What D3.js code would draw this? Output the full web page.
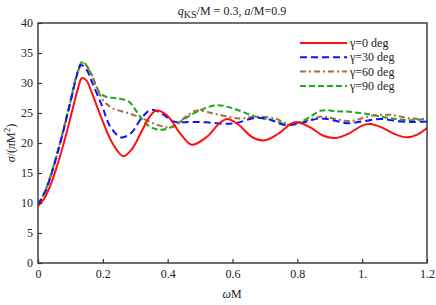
<html>
<head>
<script src="https://d3js.org/d3.v7.min.js"></script>
<style>
  body { margin: 0; background: #fff; }
  text { font-family: "Liberation Serif", "DejaVu Serif", serif; fill: #222; }
</style>
</head>
<body>
<svg width="436" height="305" id="chart"></svg>
<script>
// data: [omegaM, sigma/(pi M^2)]
var gamma0 = [[0,9.5],[0.02,10.8],[0.04,13.2],[0.06,16.4],[0.08,20.1],[0.1,24.2],[0.114,27.2],[0.125,29.4],[0.135,30.8],[0.15,30.4],
  [0.163,28.8],[0.194,24.4],[0.23,19.95],[0.263,17.8],[0.29,19.0],[0.32,22.0],[0.35,24.8],[0.367,25.4],[0.4,24.5],[0.44,21.5],
  [0.475,19.7],[0.52,21.0],[0.56,23.3],[0.584,24.0],[0.62,23.0],[0.66,21.0],[0.70,20.45],[0.74,21.5],[0.78,23.2],[0.797,23.5],
  [0.84,22.6],[0.88,21.2],[0.92,20.85],[0.96,21.6],[1.0,22.9],[1.025,23.15],[1.06,22.6],[1.1,21.5],[1.137,20.95],[1.17,21.4],[1.2,22.5]];
var gamma30 = [[0,9.7],[0.02,11.6],[0.04,14.6],[0.07,20.3],[0.1,26.8],[0.12,31.3],[0.132,33.0],[0.15,32.2],[0.168,29.95],[0.199,26.0],
  [0.22,23.0],[0.25,21.05],[0.263,20.95],[0.29,21.8],[0.32,24.2],[0.348,25.5],[0.38,25.0],[0.417,23.6],[0.47,23.5],[0.52,23.45],
  [0.57,23.2],[0.61,23.3],[0.67,24.2],[0.71,24.0],[0.76,23.0],[0.81,23.3],[0.87,24.1],[0.91,23.8],[0.953,23.3],[1.005,23.65],
  [1.056,24.0],[1.108,23.65],[1.16,23.5],[1.2,23.6]];
var gamma60 = [[0,9.7],[0.02,11.6],[0.04,14.6],[0.07,20.3],[0.1,26.8],[0.12,31.3],[0.137,33.3],[0.15,32.8],[0.168,31.0],[0.2,27.2],
  [0.23,25.8],[0.28,24.95],[0.33,23.9],[0.375,22.9],[0.417,22.7],[0.459,24.5],[0.49,25.4],[0.55,24.8],[0.62,24.1],[0.67,24.4],
  [0.73,24.1],[0.773,23.2],[0.814,23.5],[0.876,24.4],[0.91,24.1],[0.963,23.65],[1.025,24.5],[1.087,24.7],[1.149,24.1],[1.2,24.0]];
var gamma90 = [[0,9.8],[0.02,11.8],[0.04,14.8],[0.07,20.5],[0.1,27.0],[0.12,31.5],[0.137,33.55],[0.16,32.0],[0.189,28.5],[0.21,27.7],
  [0.24,27.45],[0.28,26.9],[0.31,24.8],[0.34,22.9],[0.376,22.2],[0.41,22.6],[0.44,23.6],[0.49,25.2],[0.55,26.3],[0.6,25.8],
  [0.67,24.4],[0.73,23.7],[0.775,23.0],[0.82,23.8],[0.876,25.4],[0.92,25.3],[0.96,25.2],[1.02,24.8],[1.09,24.1],[1.15,23.8],[1.2,24.0]];

var seriesNames = ["\u03B3=0 deg", "\u03B3=30 deg", "\u03B3=60 deg", "\u03B3=90 deg"];
var seriesData = [gamma0, gamma30, gamma60, gamma90];
var seriesColors = ["#ff1010", "#1010ff", "#a0703c", "#22a622"];
var seriesDash = [null, "7,4", "6,3,2,3", "6,3"];
var xTicks = [0, 0.2, 0.4, 0.6, 0.8, 1.0, 1.2];
var xTickLabels = ["0", "0.2", "0.4", "0.6", "0.8", "1.", "1.2"];
var yTicks = [0, 5, 10, 15, 20, 25, 30, 35, 40];

var svg = d3.select("#chart");
var plotLeft = 38, plotRight = 427, plotTop = 23, plotBottom = 263;

var x = d3.scaleLinear().domain([0, 1.2]).range([plotLeft, plotRight]);
var y = d3.scaleLinear().domain([0, 40]).range([plotBottom, plotTop]);

// curves first, clipped to the frame
svg.append("clipPath").attr("id", "clip")
  .append("rect").attr("x", plotLeft).attr("y", plotTop)
  .attr("width", plotRight - plotLeft).attr("height", plotBottom - plotTop);

var line = d3.line()
  .x(d => x(d[0]))
  .y(d => y(d[1]))
  .curve(d3.curveCatmullRom.alpha(0.5));

var plot = svg.append("g").attr("clip-path", "url(#clip)");
// draw red on top like the reference
[3, 2, 1, 0].forEach(function(i) {
  plot.append("path")
    .datum(seriesData[i])
    .attr("d", line)
    .attr("fill", "none")
    .attr("stroke", seriesColors[i])
    .attr("stroke-width", 2)
    .attr("stroke-dasharray", seriesDash[i]);
});

// axes with inward ticks
var xAxis = d3.axisBottom(x).tickValues(xTicks).tickSize(-4).tickPadding(6)
  .tickFormat((d, i) => xTickLabels[i]);
var gx = svg.append("g").attr("transform", "translate(0," + plotBottom + ")").call(xAxis);
var yAxis = d3.axisLeft(y).tickValues(yTicks).tickSize(-4).tickPadding(5);
var gy = svg.append("g").attr("transform", "translate(" + plotLeft + ",0)").call(yAxis);
[gx, gy].forEach(function(g) {
  g.attr("font-family", "Liberation Serif").attr("font-size", 12);
  g.select(".domain").remove();
  g.selectAll(".tick line").attr("stroke", "#333").attr("stroke-width", 1.2);
  g.selectAll(".tick text").attr("fill", "#222");
});

svg.append("rect")
  .attr("x", plotLeft).attr("y", plotTop)
  .attr("width", plotRight - plotLeft).attr("height", plotBottom - plotTop)
  .attr("fill", "none").attr("stroke", "#333").attr("stroke-width", 1.4);

// title
var title = svg.append("text").attr("x", 232).attr("y", 15).attr("text-anchor", "middle").style("font-size", "12px");
title.append("tspan").style("font-style", "italic").text("q");
title.append("tspan").attr("dy", 3).style("font-size", "10px").text("KS");
title.append("tspan").attr("dy", -3).text("/M = 0.3, ");
title.append("tspan").style("font-style", "italic").text("a");
title.append("tspan").text("/M=0.9");

// x label
var xl = svg.append("text").attr("x", 232).attr("y", 298).attr("text-anchor", "middle").style("font-size", "12px");
xl.append("tspan").style("font-style", "italic").text("\u03C9");
xl.append("tspan").text("M");

// y label
var yl = svg.append("text").attr("transform", "translate(15,143) rotate(-90)").attr("text-anchor", "middle").style("font-size", "12px");
yl.append("tspan").style("font-style", "italic").text("\u03C3");
yl.append("tspan").text("/(");
yl.append("tspan").style("font-style", "italic").text("\u03C0");
yl.append("tspan").text("M");
yl.append("tspan").attr("dy", -5).style("font-size", "9px").text("2");
yl.append("tspan").attr("dy", 5).text(")");

// legend
var legend = svg.append("g");
seriesNames.forEach(function(name, i) {
  var ly = 43 + i * 14.3;
  legend.append("line")
    .attr("x1", 300).attr("x2", 347).attr("y1", ly).attr("y2", ly)
    .attr("stroke", seriesColors[i]).attr("stroke-width", 2)
    .attr("stroke-dasharray", seriesDash[i]);
  legend.append("text").attr("x", 350).attr("y", ly + 4).style("font-size", "12px").text(name);
});
</script>
</body>
</html>
